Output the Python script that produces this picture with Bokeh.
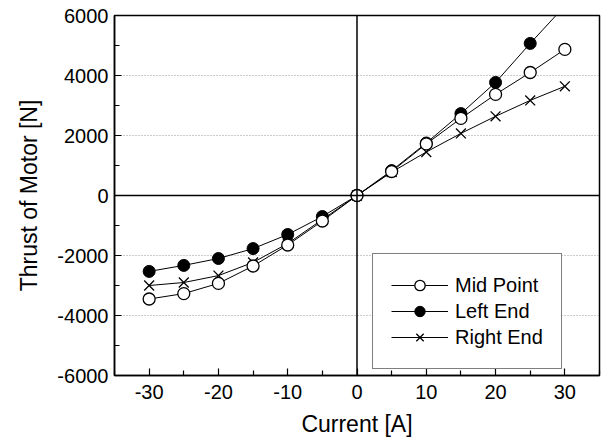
from bokeh.plotting import figure
from bokeh.models import (Range1d, FixedTicker, Span, Legend, LegendItem, PrintfTickFormatter)
from bokeh.embed import file_html
from bokeh.resources import INLINE

current = [-30, -25, -20, -15, -10, -5, 0, 5, 10, 15, 20, 25, 30]
mid_point = [-3450, -3270, -2930, -2350, -1650, -850, 0, 800, 1720, 2570, 3370, 4100, 4870]
left_end = [-2530, -2330, -2100, -1770, -1300, -700, 0, 830, 1750, 2730, 3770, 5070, 6320]
right_end = [-3000, -2900, -2670, -2230, -1600, -800, 0, 780, 1450, 2070, 2640, 3170, 3640]

x_ticks = [-30, -20, -10, 0, 10, 20, 30]
x_minor = [-35, -25, -15, -5, 5, 15, 25, 35]
y_ticks = [-6000, -4000, -2000, 0, 2000, 4000, 6000]
y_minor = [-5000, -3000, -1000, 1000, 3000, 5000]

FONT = "Liberation Sans"

p = figure(width=602, height=444, output_backend="svg", toolbar_location=None,
           x_range=Range1d(-35, 35), y_range=Range1d(-6000, 6000),
           min_border_left=114, min_border_right=3, min_border_top=15,
           min_border_bottom=69)
p.background_fill_color = "white"
p.border_fill_color = "white"
p.outline_line_color = "black"
p.outline_line_width = 1.5

p.xaxis.ticker = FixedTicker(ticks=x_ticks, minor_ticks=x_minor)
p.yaxis.ticker = FixedTicker(ticks=y_ticks, minor_ticks=y_minor)
for ax in (p.xaxis[0], p.yaxis[0]):
    ax.formatter = PrintfTickFormatter(format="%d")
    ax.major_tick_in = 7
    ax.major_tick_out = 0
    ax.minor_tick_in = 5
    ax.minor_tick_out = 0
    ax.axis_line_color = "black"
    ax.axis_line_width = 1.5
    ax.major_tick_line_width = 1.2
    ax.minor_tick_line_width = 1.2
    ax.major_label_text_font = FONT
    ax.major_label_text_font_size = "20px"
    ax.major_label_text_color = "black"
    ax.axis_label_text_font = FONT
    ax.axis_label_text_font_size = "23px"
    ax.axis_label_text_font_style = "normal"
    ax.axis_label_text_color = "black"

p.xaxis.axis_label = "Current [A]"
p.yaxis.axis_label = "Thrust of Motor [N]"
p.xaxis.major_label_standoff = 9
p.yaxis.major_label_standoff = 6
p.xaxis.axis_label_standoff = 9
p.yaxis.axis_label_standoff = 12

p.xgrid.grid_line_color = None
p.ygrid.ticker = FixedTicker(ticks=[-4000, -2000, 2000, 4000])
p.ygrid.grid_line_color = "#999999"
p.ygrid.grid_line_dash = "1 2"
p.ygrid.grid_line_width = 1

p.add_layout(Span(location=0, dimension="width", line_color="black", line_width=1.5))
p.add_layout(Span(location=0, dimension="height", line_color="black", line_width=1.5))

l_mid = p.line(current, mid_point, line_color="black", line_width=1)
l_left = p.line(current, left_end, line_color="black", line_width=1)
l_right = p.line(current, right_end, line_color="black", line_width=1)

s_right = p.scatter(current, right_end, marker="x", size=14, line_color="black", line_width=1.3)
s_left = p.scatter(current, left_end, marker="circle", size=12, fill_color="black", line_color="black")
s_mid = p.scatter(current, mid_point, marker="circle", size=12, fill_color="white", line_color="black", line_width=1.3)

legend = Legend(items=[
    LegendItem(label="Mid Point", renderers=[l_mid, s_mid]),
    LegendItem(label="Left End", renderers=[l_left, s_left]),
    LegendItem(label="Right End", renderers=[l_right, s_right]),
], location=(258, 6))
legend.margin = 0
legend.padding = 18
legend.spacing = 0
legend.glyph_width = 57
legend.glyph_height = 26
legend.label_height = 26
legend.label_standoff = 7
legend.label_text_font = FONT
legend.label_text_font_size = "20px"
legend.label_text_color = "black"
legend.border_line_color = "black"
legend.border_line_width = 1.2
legend.background_fill_color = "white"
legend.background_fill_alpha = 1
p.add_layout(legend)

open("out.html", "w").write(file_html(p, INLINE))
